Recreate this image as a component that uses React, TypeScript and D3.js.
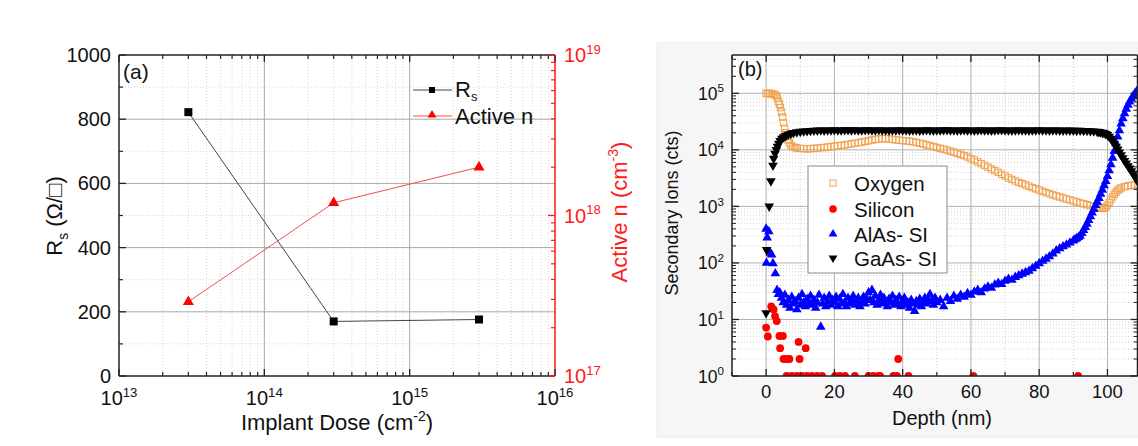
import React from "react";
import * as d3 from "d3";

// ---------- Panel (a) data ----------
const implantDose = [3e13, 3e14, 3e15];
const sheetResistance = [822, 170, 176];
const activeN = [2.9e17, 1.2e18, 2.0e18];
const doseTicks = [1e13, 1e14, 1e15, 1e16];
const rsTicks = [0, 200, 400, 600, 800, 1000];
const nTicks = [1e17, 1e18, 1e19];

// ---------- Panel (b) data: [depth nm, counts] ----------
const oxygen: [number, number][] = [
  [0, 1.0e5], [0.5, 1.0e5], [1, 9.8e4], [1.5, 1.0e5], [2, 9.7e4], [2.5, 9.5e4], [3, 9.0e4], [3.3, 8.2e4],
  [3.6, 7.2e4], [3.9, 6.4e4], [4.2, 5.6e4], [4.5, 4.7e4], [4.8, 3.8e4], [5.1, 3.0e4], [5.4, 2.4e4],
  [5.7, 2.0e4], [6.0, 1.75e4], [6.4, 1.5e4], [6.8, 1.32e4], [7.3, 1.2e4], [7.8, 1.13e4], [8.5, 1.1e4],
  [9, 1.08e4], [10, 1.06e4], [11, 1.05e4], [12, 1.04e4], [13, 1.05e4], [14, 1.06e4], [15, 1.07e4],
  [16, 1.09e4], [17, 1.1e4], [18, 1.12e4], [19, 1.14e4], [20, 1.16e4], [21, 1.18e4], [22, 1.2e4],
  [23, 1.22e4], [24, 1.25e4], [25, 1.28e4], [26, 1.31e4], [27, 1.34e4], [28, 1.37e4], [29, 1.41e4],
  [30, 1.45e4], [31, 1.49e4], [32, 1.53e4], [33, 1.56e4], [34, 1.58e4], [35, 1.58e4], [36, 1.56e4],
  [37, 1.53e4], [38, 1.5e4], [39, 1.48e4], [40, 1.46e4], [41, 1.44e4], [42, 1.42e4], [43, 1.39e4],
  [44, 1.35e4], [45, 1.31e4], [46, 1.27e4], [47, 1.22e4], [48, 1.18e4], [49, 1.14e4], [50, 1.1e4],
  [51, 1.06e4], [52, 1.03e4], [53, 9.9e3], [54, 9.5e3], [55, 9.1e3], [56, 8.7e3], [57, 8.3e3],
  [58, 7.9e3], [59, 7.5e3], [60, 7.0e3], [61, 6.6e3], [62, 6.1e3], [63, 5.7e3], [64, 5.3e3],
  [65, 4.95e3], [66, 4.6e3], [67, 4.3e3], [68, 4.0e3], [69, 3.7e3], [70, 3.45e3], [71, 3.2e3],
  [72, 3.0e3], [73, 2.82e3], [74, 2.65e3], [75, 2.52e3], [76, 2.4e3], [77, 2.27e3], [78, 2.15e3],
  [79, 2.05e3], [80, 1.95e3], [81, 1.85e3], [82, 1.75e3], [83, 1.67e3], [84, 1.6e3], [85, 1.53e3],
  [86, 1.47e3], [87, 1.41e3], [88, 1.35e3], [89, 1.3e3], [90, 1.25e3], [91, 1.2e3], [92, 1.15e3],
  [93, 1.11e3], [94, 1.07e3], [95, 1.03e3], [96, 1.0e3], [97, 970], [98, 940], [98.5, 925], [99, 920],
  [99.5, 960], [100, 1050], [100.5, 1180], [101, 1330], [101.5, 1480], [102, 1630], [102.5, 1780],
  [103, 1920], [103.5, 2030], [104, 2120], [105, 2230], [106, 2310], [107, 2360], [108, 2400], [109, 2420],
];

const silicon: [number, number][] = [
  [0, 7.2], [0.5, 5], [1.5, 17], [2.2, 15], [2.6, 11.5], [3.1, 9.4], [3.9, 5.1], [4.1, 3.1], [4.9, 5.1],
  [5.1, 2], [6, 2], [6.8, 2], [6, 1], [7.5, 1], [9, 1], [9.5, 4], [9.8, 2], [10.5, 1], [11.6, 3.1],
  [12, 1], [13.4, 1], [14.9, 1], [16.4, 1], [20.2, 1], [21.6, 1], [23.1, 1], [26, 1], [30, 1],
  [31.4, 1], [32.9, 1], [33.4, 1], [37.3, 1], [38.3, 1], [38.7, 2], [41.7, 1], [60.7, 1], [91.4, 1],
];

const alas: [number, number][] = [
  [0, 400], [0.1, 100], [0.3, 280], [0.8, 360], [1.2, 150], [1.6, 140], [2.0, 98], [2.7, 65], [3.2, 33],
  [3.6, 28], [4.0, 30], [4.5, 24], [5, 20], [5.5, 27], [6, 18], [6.5, 22], [7, 16], [7.5, 25], [8, 19],
  [8.5, 21], [9, 15], [9.5, 24], [10, 18], [10.5, 28], [11, 20], [11.5, 17], [12, 23], [12.5, 19],
  [13, 26], [13.5, 18], [14, 22], [14.5, 16], [15, 20], [15.5, 27], [16, 7.4], [16.5, 19], [17, 24],
  [17.5, 17], [18, 21], [18.5, 26], [19, 18], [19.5, 22], [20, 20], [20.5, 25], [21, 17], [21.5, 23],
  [22, 19], [22.5, 28], [23, 20], [23.5, 17], [24, 24], [24.5, 19], [25, 22], [25.5, 26], [26, 18],
  [26.5, 21], [27, 24], [27.5, 17], [28, 20], [28.5, 25], [29, 19], [29.5, 23], [30, 30], [30.5, 22],
  [31, 33], [31.5, 20], [32, 26], [32.5, 18], [33, 22], [33.5, 27], [34, 19], [34.5, 24], [35, 21],
  [35.5, 17], [36, 23], [36.5, 20], [37, 26], [37.5, 18], [38, 22], [38.5, 19], [39, 25], [39.5, 17],
  [40, 21], [40.5, 24], [41, 18], [41.5, 20], [42, 16], [42.5, 22], [43, 19], [43.5, 14], [44, 21],
  [44.5, 18], [45, 23], [45.5, 17], [46, 20], [46.5, 24], [47, 19], [47.5, 22], [48, 28], [48.5, 21],
  [49, 18], [49.5, 24], [50, 20], [51, 22], [52, 17], [53, 24], [54, 21], [55, 26], [56, 23], [57, 27],
  [58, 25], [59, 29], [60, 27], [61, 31], [62, 33], [63, 30], [64, 35], [65, 38], [66, 36], [67, 41],
  [68, 44], [69, 42], [70, 48], [71, 52], [72, 50], [73, 56], [74, 60], [75, 64], [76, 68], [77, 72],
  [78, 80], [79, 88], [80, 98], [81, 108], [82, 118], [83, 130], [84, 145], [85, 165], [86, 180],
  [87, 195], [88, 210], [89, 228], [90, 248], [90.5, 260], [91, 272], [91.5, 285], [92, 300],
  [92.5, 335], [93, 380], [93.5, 430], [94, 490], [94.5, 570], [95, 660], [95.5, 770], [96, 890],
  [96.5, 1050], [97, 1200], [97.5, 1400], [98, 1650], [98.5, 1950], [99, 2350], [99.5, 2800],
  [100, 3400], [100.5, 4300], [101, 5500], [101.5, 7200], [102, 9500], [102.5, 13000], [103, 17000],
  [103.5, 22000], [104, 29000], [104.5, 36000], [105, 44000], [105.5, 53000], [106, 62000],
  [106.5, 71000], [107, 80000], [107.5, 89000], [108, 98000], [108.5, 107000], [109, 116000],
];

const gaas: [number, number][] = [
  [0, 13], [0.15, 170], [0.9, 1000], [1.4, 2800], [2.0, 5300], [2.2, 7000], [2.6, 8600], [3.0, 10000],
  [3.3, 11500], [3.7, 13000], [4.1, 14500], [4.6, 15800], [5.1, 16800], [5.7, 17700], [6.4, 18600],
  [7.2, 19400], [8, 20000], [9, 20600], [10, 21000], [11, 21300], [12, 21600], [13, 21800], [14, 22000],
  [15, 22100], [16, 22200], [17, 22100], [18, 22300], [19, 22200], [20, 22400], [21, 22300], [22, 22200],
  [23, 22400], [24, 22500], [25, 22300], [26, 22400], [27, 22200], [28, 22300], [29, 22500], [30, 22400],
  [31, 22300], [32, 22200], [33, 22400], [34, 22300], [35, 22200], [36, 22100], [37, 22300], [38, 22200],
  [39, 22400], [40, 22300], [41, 22200], [42, 22100], [43, 22300], [44, 22200], [45, 22100], [46, 22300],
  [47, 22400], [48, 22200], [49, 22100], [50, 22300], [51, 22200], [52, 22400], [53, 22500], [54, 22300],
  [55, 22200], [56, 22100], [57, 22300], [58, 22400], [59, 22200], [60, 22300], [61, 22100], [62, 22200],
  [63, 22400], [64, 22300], [65, 22200], [66, 22100], [67, 22300], [68, 22500], [69, 22400], [70, 22200],
  [71, 22300], [72, 22100], [73, 22200], [74, 22400], [75, 22300], [76, 22200], [77, 22100], [78, 22300],
  [79, 22200], [80, 22400], [81, 22300], [82, 22200], [83, 22100], [84, 22300], [85, 22200], [86, 22100],
  [87, 22000], [88, 22200], [89, 22100], [90, 22000], [91, 21900], [92, 22000], [93, 21800], [94, 21700],
  [95, 21500], [96, 21300], [97, 21000], [97.5, 20800], [98, 20500], [98.5, 20200], [99, 19800],
  [99.5, 19200], [100, 18400], [100.5, 17200], [101, 15800], [101.5, 14300], [102, 12800], [102.5, 11400],
  [103, 10200], [103.5, 9100], [104, 8100], [104.5, 7200], [105, 6400], [105.5, 5800], [106, 5200],
  [106.5, 4700], [107, 4200], [107.5, 3800], [108, 3400], [108.5, 3000], [109, 2700],
];

const depthTicks = [0, 20, 40, 60, 80, 100];
const depthMinor = [-10, 10, 30, 50, 70, 90];
const ionTicks = [1, 10, 100, 1e3, 1e4, 1e5];
const legendB = ["Oxygen", "Silicon", "AlAs- SI", "GaAs- SI"];

const FONT = "'Liberation Sans', Arial, Helvetica, sans-serif";
const ORANGE = "#F0A24E";

function logMinor(lo: number, hi: number) {
  const out: number[] = [];
  for (let e = Math.floor(Math.log10(lo)); e <= Math.ceil(Math.log10(hi)); e++) {
    for (let m = 2; m < 10; m++) {
      const v = m * Math.pow(10, e);
      if (v > lo && v < hi) out.push(v);
    }
  }
  return out;
}

const Pow = ({ x, y, exp, size, anchor, fill = "#111" }: any) => (
  <text x={x} y={y} fontSize={size} textAnchor={anchor} fill={fill} fontFamily={FONT}>
    10<tspan dy={-size * 0.42} fontSize={size * 0.66}>{exp}</tspan>
  </text>
);

const triUp = d3.symbol().type(d3.symbolTriangle).size(40)()!;
const triUpSmall = d3.symbol().type(d3.symbolTriangle).size(34)()!;

function PanelA() {
  const L = 119, R = 555, T = 55, B = 376;
  const x = d3.scaleLog().domain([1e13, 1e16]).range([L, R]);
  const y = d3.scaleLinear().domain([0, 1000]).range([B, T]);
  const yN = d3.scaleLog().domain([1e17, 1e19]).range([B, T]);
  const xMinor = logMinor(1e13, 1e16);
  const yMinor = [100, 300, 500, 700, 900];
  const nMinor = logMinor(1e17, 1e19);
  const rsLine = d3.line<number>().x((_, i) => x(implantDose[i])).y((d) => y(d));
  const nLine = d3.line<number>().x((_, i) => x(implantDose[i])).y((d) => yN(d));
  return (
    <g>
      {xMinor.map((v) => (
        <line key={"gxm" + v} x1={x(v)} x2={x(v)} y1={T} y2={B} stroke="#d6d6d6" strokeDasharray="1,2" />
      ))}
      {yMinor.map((v) => (
        <line key={"gym" + v} x1={L} x2={R} y1={y(v)} y2={y(v)} stroke="#d6d6d6" strokeDasharray="1,2" />
      ))}
      {doseTicks.slice(1, 3).map((v) => (
        <line key={"gx" + v} x1={x(v)} x2={x(v)} y1={T} y2={B} stroke="#a8a8a8" />
      ))}
      {rsTicks.slice(1, 5).map((v) => (
        <line key={"gy" + v} x1={L} x2={R} y1={y(v)} y2={y(v)} stroke="#a8a8a8" />
      ))}
      <path d={rsLine(sheetResistance)!} fill="none" stroke="#444" strokeWidth={1} />
      <path d={nLine(activeN)!} fill="none" stroke="#ec5050" strokeWidth={1} />
      {sheetResistance.map((v, i) => (
        <rect key={"rs" + i} x={x(implantDose[i]) - 4} y={y(v) - 4} width={8} height={8} fill="#000" />
      ))}
      {activeN.map((v, i) => (
        <path key={"n" + i} d={triUp} transform={`translate(${x(implantDose[i])},${yN(v)}) scale(1.15)`} fill="#ff0000" />
      ))}
      <line x1={L} x2={R} y1={B} y2={B} stroke="#222" strokeWidth={1.5} />
      <line x1={L} x2={R} y1={T} y2={T} stroke="#222" strokeWidth={1.5} />
      <line x1={L} x2={L} y1={T} y2={B} stroke="#222" strokeWidth={1.5} />
      <line x1={R} x2={R} y1={T} y2={B} stroke="#ff1a1a" strokeWidth={1.5} />
      {doseTicks.map((v) => (
        <g key={"tx" + v}>
          <line x1={x(v)} x2={x(v)} y1={B} y2={B - 7} stroke="#222" strokeWidth={1.3} />
          <line x1={x(v)} x2={x(v)} y1={T} y2={T + 7} stroke="#222" strokeWidth={1.3} />
        </g>
      ))}
      {xMinor.map((v) => (
        <g key={"txm" + v}>
          <line x1={x(v)} x2={x(v)} y1={B} y2={B - 4} stroke="#222" strokeWidth={1.2} />
          <line x1={x(v)} x2={x(v)} y1={T} y2={T + 4} stroke="#222" strokeWidth={1.2} />
        </g>
      ))}
      {rsTicks.map((v) => (
        <line key={"ty" + v} x1={L} x2={L + 7} y1={y(v)} y2={y(v)} stroke="#222" strokeWidth={1.3} />
      ))}
      {yMinor.map((v) => (
        <line key={"tym" + v} x1={L} x2={L + 4} y1={y(v)} y2={y(v)} stroke="#222" strokeWidth={1.2} />
      ))}
      {nTicks.map((v) => (
        <line key={"tn" + v} x1={R} x2={R - 7} y1={yN(v)} y2={yN(v)} stroke="#ff1a1a" strokeWidth={1.3} />
      ))}
      {nMinor.map((v) => (
        <line key={"tnm" + v} x1={R} x2={R - 4} y1={yN(v)} y2={yN(v)} stroke="#ff1a1a" strokeWidth={1.2} />
      ))}
      {rsTicks.map((v) => (
        <text key={"ly" + v} x={111} y={y(v) + 7} fontSize={20} textAnchor="end" fill="#111" fontFamily={FONT}>
          {v}
        </text>
      ))}
      {doseTicks.map((v) => (
        <Pow key={"lx" + v} x={x(v)} y={405} exp={String(Math.round(Math.log10(v)))} size={20} anchor="middle" />
      ))}
      {nTicks.map((v) => (
        <Pow key={"ln" + v} x={R + 9} y={yN(v) + 7} exp={String(Math.round(Math.log10(v)))} size={20} anchor="start" fill="#ff1a1a" />
      ))}
      <text x={(L + R) / 2} y={430} fontSize={22} textAnchor="middle" fill="#111" fontFamily={FONT}>
        Implant Dose (cm<tspan dy={-9} fontSize={14}>-2</tspan><tspan dy={9}>)</tspan>
      </text>
      <text transform={`translate(62,216) rotate(-90)`} fontSize={22} textAnchor="middle" fill="#111" fontFamily={FONT}>
        R<tspan dy={6} fontSize={14}>s</tspan><tspan dy={-6}> (Ω/□)</tspan>
      </text>
      <text transform={`translate(627,212) rotate(-90)`} fontSize={22} textAnchor="middle" fill="#ff1a1a" fontFamily={FONT}>
        Active n (cm<tspan dy={-9} fontSize={14}>-3</tspan><tspan dy={9}>)</tspan>
      </text>
      <text x={123} y={79} fontSize={21} fill="#111" fontFamily={FONT}>(a)</text>
      <line x1={413} x2={452} y1={90} y2={90} stroke="#444" />
      <rect x={429} y={87} width={6} height={6} fill="#000" />
      <text x={455} y={97} fontSize={22} fill="#111" fontFamily={FONT}>
        R<tspan dy={4} fontSize={13}>s</tspan>
      </text>
      <line x1={413} x2={452} y1={116} y2={116} stroke="#ec5050" />
      <path d={triUpSmall} transform="translate(432,115)" fill="#ff0000" />
      <text x={455} y={124} fontSize={22} fill="#111" fontFamily={FONT}>Active n</text>
    </g>
  );
}

function PanelB() {
  const L = 732, R = 1137.5, T = 55, B = 376;
  const x = d3.scaleLinear().domain([-10, 108.8]).range([L, R]);
  const y = d3.scaleLog().domain([1, 4.76e5]).range([B, T]);
  const yMinor = logMinor(1, 4.76e5);
  const sq = 6.4;
  return (
    <g>
      <rect x={657} y={43} width={490} height={394} fill="#f6f6f6" stroke="#ebebeb" />
      <rect x={L} y={T} width={R - L} height={B - T} fill="#fff" />
      <clipPath id="clipB">
        <rect x={L} y={T} width={R - L} height={B - T} />
      </clipPath>
      {yMinor.map((v) => (
        <line key={"gym" + v} x1={L} x2={R} y1={y(v)} y2={y(v)} stroke="#d4d4d4" strokeDasharray="1,2" />
      ))}
      {depthMinor.slice(1).map((v) => (
        <line key={"gxm" + v} x1={x(v)} x2={x(v)} y1={T} y2={B} stroke="#d4d4d4" strokeDasharray="1,2" />
      ))}
      {ionTicks.slice(1).map((v) => (
        <line key={"gy" + v} x1={L} x2={R} y1={y(v)} y2={y(v)} stroke="#b0b0b0" />
      ))}
      {depthTicks.map((v) => (
        <line key={"gx" + v} x1={x(v)} x2={x(v)} y1={T} y2={B} stroke="#b0b0b0" />
      ))}
      <g clipPath="url(#clipB)">
        {oxygen.map(([d, v], i) => (
          <rect key={"o" + i} x={x(d) - sq / 2} y={y(v) - sq / 2} width={sq} height={sq} fill="none" stroke={ORANGE} strokeWidth={1} />
        ))}
        {silicon.map(([d, v], i) => (
          <circle key={"s" + i} cx={x(d)} cy={y(v)} r={3.9} fill="#ff0000" />
        ))}
        {alas.map(([d, v], i) => (
          <path key={"a" + i} d={triUp} transform={`translate(${x(d)},${y(v)})`} fill="#0000ff" />
        ))}
        {gaas.map(([d, v], i) => (
          <path key={"g" + i} d={triUp} transform={`translate(${x(d)},${y(v)}) rotate(180)`} fill="#000" />
        ))}
      </g>
      <line x1={L} x2={R} y1={B} y2={B} stroke="#222" strokeWidth={1.5} />
      <line x1={L} x2={R} y1={T} y2={T} stroke="#222" strokeWidth={1.5} />
      <line x1={L} x2={L} y1={T} y2={B} stroke="#222" strokeWidth={1.5} />
      <line x1={R} x2={R} y1={T} y2={B} stroke="#222" strokeWidth={1.5} />
      {depthTicks.map((v) => (
        <g key={"tx" + v}>
          <line x1={x(v)} x2={x(v)} y1={B} y2={B - 7} stroke="#222" strokeWidth={1.3} />
          <line x1={x(v)} x2={x(v)} y1={T} y2={T + 7} stroke="#222" strokeWidth={1.3} />
        </g>
      ))}
      {depthMinor.map((v) => (
        <g key={"txm" + v}>
          <line x1={x(v)} x2={x(v)} y1={B} y2={B - 4} stroke="#222" strokeWidth={1.2} />
          <line x1={x(v)} x2={x(v)} y1={T} y2={T + 4} stroke="#222" strokeWidth={1.2} />
        </g>
      ))}
      {ionTicks.map((v) => (
        <g key={"ty" + v}>
          <line x1={L} x2={L + 7} y1={y(v)} y2={y(v)} stroke="#222" strokeWidth={1.3} />
          <line x1={R} x2={R - 7} y1={y(v)} y2={y(v)} stroke="#222" strokeWidth={1.3} />
        </g>
      ))}
      {yMinor.map((v) => (
        <g key={"tym" + v}>
          <line x1={L} x2={L + 4} y1={y(v)} y2={y(v)} stroke="#222" strokeWidth={1} />
          <line x1={R} x2={R - 4} y1={y(v)} y2={y(v)} stroke="#222" strokeWidth={1} />
        </g>
      ))}
      {ionTicks.map((v) => (
        <Pow key={"ly" + v} x={724} y={y(v) + 6.5} exp={String(Math.round(Math.log10(v)))} size={17.5} anchor="end" />
      ))}
      {depthTicks.map((v) => (
        <text key={"lx" + v} x={x(v)} y={398} fontSize={18.5} textAnchor="middle" fill="#111" fontFamily={FONT}>
          {v}
        </text>
      ))}
      <text x={942} y={425} fontSize={20} textAnchor="middle" fill="#111" fontFamily={FONT}>Depth (nm)</text>
      <text transform="translate(678,213) rotate(-90)" fontSize={18} textAnchor="middle" fill="#111" fontFamily={FONT}>
        Secondary Ions (cts)
      </text>
      <text x={738} y={76} fontSize={20} fill="#111" fontFamily={FONT}>(b)</text>
      <rect x={808} y={166} width={139} height={107} fill="#fff" stroke="#8a8a8a" />
      {legendB.map((name, i) => {
        const cy = [183, 209, 234, 258][i];
        return (
          <g key={name}>
            {i === 0 && <rect x={830} y={cy - 3} width={6} height={6} fill="none" stroke={ORANGE} />}
            {i === 1 && <circle cx={833} cy={cy} r={3.8} fill="#ff0000" />}
            {i === 2 && <path d={triUpSmall} transform={`translate(833,${cy})`} fill="#0000ff" />}
            {i === 3 && <path d={triUpSmall} transform={`translate(833,${cy}) rotate(180)`} fill="#000" />}
            <text x={854} y={cy + 7.5} fontSize={20.5} fill="#111" fontFamily={FONT}>{name}</text>
          </g>
        );
      })}
    </g>
  );
}

export default function App() {
  return (
    <svg
      width={1138}
      height={446}
      viewBox="0 0 1138 446"
      style={{ position: "absolute", left: 0, top: 0, display: "block", background: "#fff" }}
    >
      <rect x={0} y={0} width={1138} height={446} fill="#fff" />
      <PanelA />
      <PanelB />
    </svg>
  );
}
